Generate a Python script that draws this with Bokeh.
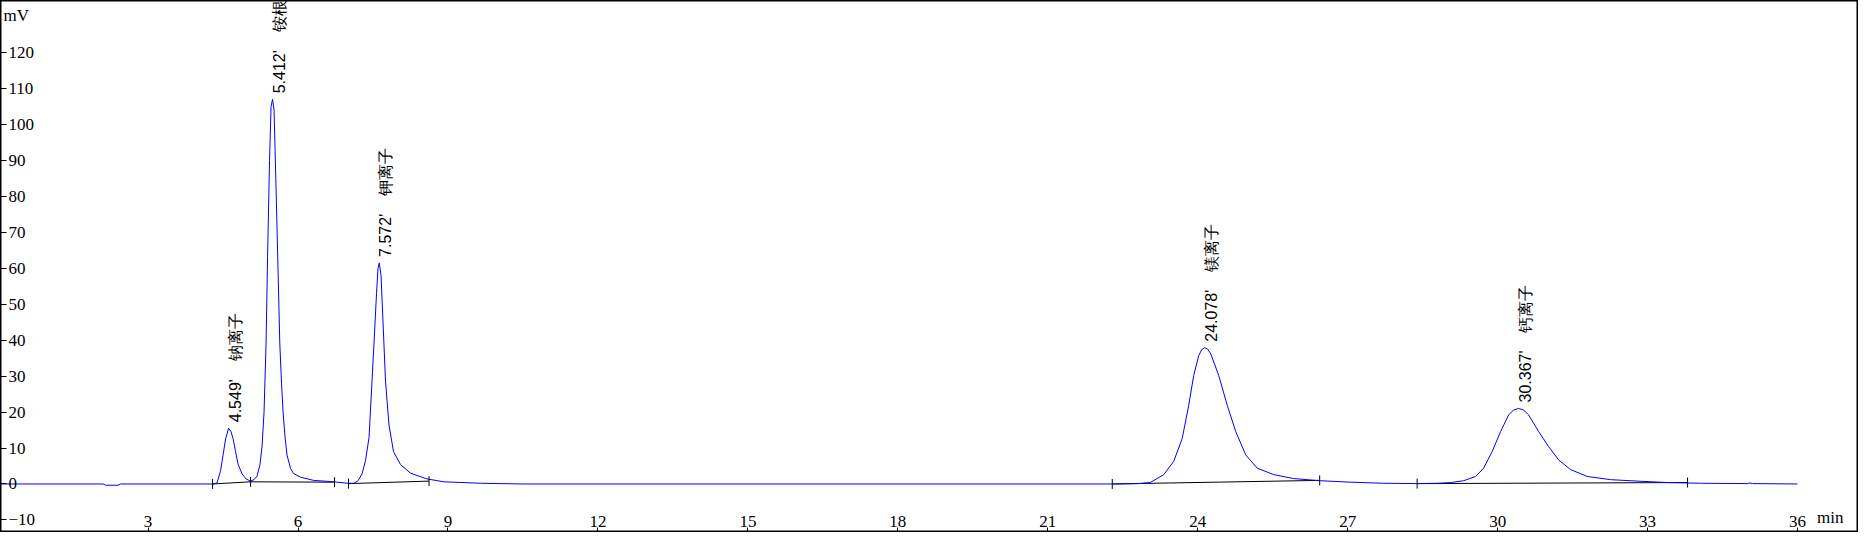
import math
from bokeh.plotting import figure
from bokeh.models import LinearAxis, FixedTicker, Range1d, Label
from bokeh.core.properties import value
from bokeh.embed import file_html
from bokeh.resources import INLINE

# ---- data ----
time_min = [0.0, 2.10, 2.15, 2.40, 2.45, 4.30, 4.38, 4.45, 4.50, 4.55, 4.61, 4.66, 4.70,
            4.75, 4.80, 4.88, 4.96, 5.05, 5.12, 5.18, 5.24, 5.28, 5.32, 5.36, 5.39, 5.43,
            5.46, 5.49, 5.52, 5.555, 5.58, 5.635, 5.67, 5.70, 5.74, 5.78, 5.85, 5.91, 6.05,
            6.31, 6.72, 6.98, 7.12, 7.20, 7.28, 7.35, 7.42, 7.48, 7.53, 7.57, 7.60, 7.625,
            7.66, 7.70, 7.75, 7.82, 7.91, 8.05, 8.25, 8.58, 8.92, 9.65, 10.5, 22.3, 22.8,
            23.05, 23.32, 23.52, 23.69, 23.82, 23.92, 24.02, 24.08, 24.14, 24.20, 24.26,
            24.42, 24.59, 24.76, 24.96, 25.19, 25.52, 25.92, 26.46, 27.06, 27.72, 28.39,
            28.80, 29.06, 29.32, 29.56, 29.72, 29.89, 30.06, 30.22, 30.32, 30.42, 30.52,
            30.62, 30.82, 31.02, 31.22, 31.46, 31.79, 32.26, 32.79, 33.39, 34.06, 35.0,
            35.05, 35.1, 36.0]
signal_mv = [0.0, 0.0, -0.35, -0.35, 0.0, 0.0, 0.3, 3.7, 8.0, 12.5, 15.5, 14.5, 12.6,
             9.0, 5.5, 2.8, 1.4, 0.8, 1.2, 2.2, 5.5, 10.5, 20.0, 39.0, 63.0, 90.0,
             105.0, 107.0, 104.0, 85.0, 71.0, 39.0, 28.0, 20.0, 13.0, 8.0, 4.3, 2.9, 1.9,
             1.0, 0.6, 0.2, 0.2, 0.9, 2.8, 6.5, 12.9, 28.6, 42.0, 53.0, 60.0, 61.5,
             58.0, 45.0, 28.6, 16.4, 9.0, 5.4, 3.0, 1.4, 0.6, 0.2, 0.0, 0.0, 0.1,
             0.4, 2.6, 6.3, 12.7, 21.9, 30.2, 35.7, 37.4, 37.9, 37.5, 36.2,
             30.2, 21.9, 14.6, 8.1, 4.4, 2.6, 1.5, 0.9, 0.5, 0.2, 0.1,
             0.2, 0.4, 0.9, 2.1, 4.4, 9.0, 14.6, 19.2, 20.6, 21.0, 20.6,
             19.2, 14.6, 10.4, 6.7, 4.0, 2.1, 1.2, 0.8, 0.4, 0.2, 0.1,
             0.3, 0.1, 0.0]

# integration baselines
base_t0 = [4.29, 5.05, 7.01, 22.29, 28.39]
base_v0 = [0.0, 0.6, 0.1, 0.0, 0.1]
base_t1 = [5.05, 6.73, 8.62, 26.44, 33.80]
base_v1 = [0.6, 0.5, 0.8, 1.0, 0.4]

# peak start / end markers
event_t = [4.29, 5.05, 6.73, 7.01, 8.62, 22.29, 26.44, 28.39, 33.80]
event_v = [0.0, 0.6, 0.5, 0.1, 0.8, 0.0, 1.0, 0.1, 0.4]

# peak apex and labels
peak_t = [4.61, 5.49, 7.625, 24.14, 30.42]
peak_v = [15.5, 107.0, 61.5, 37.9, 21.0]
peak_rt = ["4.549'", "5.412'", "7.572'", "24.078'", "30.367'"]
peak_name = ["钠离子", "铵根", "钾离子", "镁离子", "钙离子"]
peak_label = [rt + "\u00a0\u00a0\u00a0\u00a0" + nm for rt, nm in zip(peak_rt, peak_name)]

x_ticks = [3, 6, 9, 12, 15, 18, 21, 24, 27, 30, 33, 36]
y_ticks = [-10, 0, 10, 20, 30, 40, 50, 60, 70, 80, 90, 100, 110, 120]

X0, X1 = 0.047, 37.22
Y0, Y1 = -13.5, 134.5

p = figure(width=1858, height=532, output_backend="svg", toolbar_location=None,
           x_range=Range1d(X0, X1), y_range=Range1d(Y0, Y1),
           x_axis_location=None, y_axis_location=None, min_border=0)
for g in p.grid:
    g.visible = False
p.outline_line_color = "black"
p.outline_line_width = 2
p.background_fill_color = "white"
p.border_fill_color = "white"

serif = "Liberation Serif"
# vertical axis drawn at the left edge, labels to the right of its ticks
yax = LinearAxis(fixed_location=X0, ticker=FixedTicker(ticks=y_ticks),
                 major_tick_in=0, major_tick_out=6, minor_tick_line_color=None,
                 major_label_standoff=2,
                 major_label_text_font=serif, major_label_text_font_size="17px",
                 major_label_text_color="black", axis_line_color="black",
                 major_tick_line_color="black")
p.add_layout(yax, "right")
xax = LinearAxis(fixed_location=Y0, ticker=FixedTicker(ticks=x_ticks),
                 major_tick_in=5, major_tick_out=0, minor_tick_line_color=None,
                 major_label_standoff=-17,
                 major_label_text_font=serif, major_label_text_font_size="17px",
                 major_label_text_color="black", axis_line_color="black",
                 major_tick_line_color="black")
p.add_layout(xax, "below")

p.segment(x0=base_t0, y0=base_v0, x1=base_t1, y1=base_v1, line_color="black", line_width=1)
p.line(time_min, signal_mv, line_color="#0000FF", line_width=1)
p.scatter(x=event_t, y=event_v, marker="dash", angle=math.pi / 2, size=10,
          line_color="black", line_width=1)
p.text(x=peak_t, y=peak_v, text=peak_label, angle=math.pi / 2,
       text_align="left", text_baseline="top", x_offset=-2, y_offset=-6,
       text_font=value("Liberation Sans"), text_font_size="16px", text_color="black")

p.add_layout(Label(x=3, y=527, x_units="screen", y_units="screen", text="mV",
                   text_baseline="top", text_font=serif, text_font_size="17px",
                   text_color="black"))
p.add_layout(Label(x=1843, y=6, x_units="screen", y_units="screen", text="min",
                   text_align="right", text_baseline="bottom", text_font=serif,
                   text_font_size="17px", text_color="black"))

open("out.html", "w").write(file_html(p, INLINE))
